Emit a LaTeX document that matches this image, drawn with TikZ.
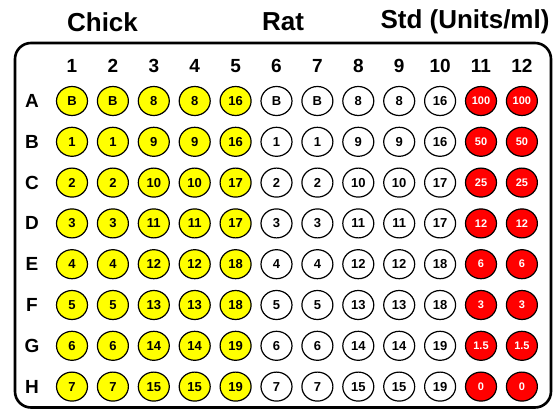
\documentclass[tikz,border=0pt]{standalone}
\usepackage{fontspec}
\setmainfont{Liberation Sans}
\usetikzlibrary{positioning,shapes.geometric}
\definecolor{Chick}{RGB}{255,255,0}
\definecolor{Std}{RGB}{255,0,0}

\begin{document}
\begin{tikzpicture}[x=1pt,y=-1pt,
 w/.style={ellipse,draw=black,line width=1.2pt,minimum width=31pt,minimum height=29pt,inner sep=0pt,font=\fontsize{13}{13}\selectfont\bfseries},
 wc/.style={w,fill=Chick},
 wr/.style={w,fill=white},
 ws/.style={w,fill=Std,text=white,font=\fontsize{11}{11}\selectfont\bfseries},
 hd/.style={font=\fontsize{19}{19}\selectfont\bfseries},
 tt/.style={font=\fontsize{26}{26}\selectfont\bfseries}]
\useasboundingbox (0,0) rectangle (560,409);
% titles
\node[tt] (chick) at (102.5,22) {Chick};
\node[tt] (rat) at (283,22) {Rat};
\node[tt] (std) at (465,22) {Std (Units/ml)};
% plate
\draw[line width=2.6pt,rounded corners=16pt] (15,43) rectangle (551,407.5);
% column and row labels
\foreach \j in {1,...,12}
  \node[hd] (col\j) at ({72+40.9*(\j-1)},66) {\j};
\foreach \r/\a/\b/\c/\s [count=\i] in {A/B/8/16/100, B/1/9/16/50, C/2/10/17/25, D/3/11/17/12,
  E/4/12/18/6, F/5/13/18/3, G/6/14/19/1.5, H/7/15/19/0}{
  \node[hd] (row\r) at (32,{101+40.8*(\i-1)}) {\r};
  \node[wc] (w\r1) at ({72},{101+40.8*(\i-1)}) {\a};
  \node[wc] (w\r2) at ({72+40.9},{101+40.8*(\i-1)}) {\a};
  \node[wc] (w\r3) at ({72+40.9*2},{101+40.8*(\i-1)}) {\b};
  \node[wc] (w\r4) at ({72+40.9*3},{101+40.8*(\i-1)}) {\b};
  \node[wc] (w\r5) at ({72+40.9*4},{101+40.8*(\i-1)}) {\c};
  \node[wr] (w\r6) at ({72+40.9*5},{101+40.8*(\i-1)}) {\a};
  \node[wr] (w\r7) at ({72+40.9*6},{101+40.8*(\i-1)}) {\a};
  \node[wr] (w\r8) at ({72+40.9*7},{101+40.8*(\i-1)}) {\b};
  \node[wr] (w\r9) at ({72+40.9*8},{101+40.8*(\i-1)}) {\b};
  \node[wr] (w\r10) at ({72+40.9*9},{101+40.8*(\i-1)}) {\c};
  \node[ws] (w\r11) at ({72+40.9*10},{101+40.8*(\i-1)}) {\s};
  \node[ws] (w\r12) at ({72+40.9*11},{101+40.8*(\i-1)}) {\s};
}
\end{tikzpicture}
\end{document}
